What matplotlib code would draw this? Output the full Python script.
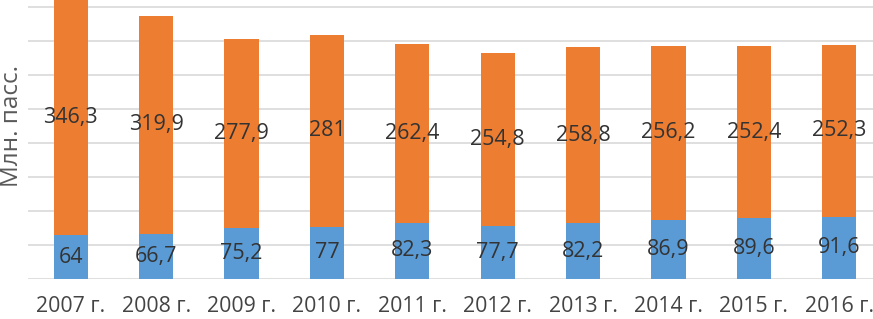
import numpy as np
import matplotlib.pyplot as plt

plt.rcParams['font.family'] = ['Open Sans', 'DejaVu Sans']

years = ['2007 г.', '2008 г.', '2009 г.', '2010 г.', '2011 г.',
         '2012 г.', '2013 г.', '2014 г.', '2015 г.', '2016 г.']
bottom_vals = [64, 66.7, 75.2, 77, 82.3, 77.7, 82.2, 86.9, 89.6, 91.6]
top_vals = [346.3, 319.9, 277.9, 281, 262.4, 254.8, 258.8, 256.2, 252.4, 252.3]

def fmt(v):
    s = ('%g' % v)
    return s.replace('.', ',')

fig = plt.figure(figsize=(8.73, 3.19), dpi=100)
ax = fig.add_axes([28/873, 40/319, 854/873, 279/319])

x = np.arange(len(years))
b1 = ax.bar(x, bottom_vals, width=0.4, color='#5B9BD5', zorder=3)
b2 = ax.bar(x, top_vals, width=0.4, bottom=bottom_vals, color='#ED7D31', zorder=3)

for i in range(len(years)):
    ax.text(x[i], bottom_vals[i]/2, fmt(bottom_vals[i]), ha='center', va='center',
            fontsize=15.5, color='#333333', zorder=4)
    ax.text(x[i], bottom_vals[i] + top_vals[i]/2, fmt(top_vals[i]), ha='center', va='center',
            fontsize=15.5, color='#333333', zorder=4)

ax.set_xlim(-0.5, 9.5)
ax.set_ylim(0, 410)
ax.set_yticks(np.arange(0, 401, 50))
ax.yaxis.grid(True, color='#D9D9D9', linewidth=1.2, zorder=0)
ax.tick_params(axis='y', left=False, labelleft=False)
ax.tick_params(axis='x', bottom=False, labelsize=15.3, colors='#444444', pad=9)
ax.set_xticks(x)
ax.set_xticklabels(years)
for s in ax.spines.values():
    s.set_visible(False)

fig.text(12/873, 1 - 126/319, 'Млн. пасс.', rotation=90, ha='center', va='center',
         fontsize=17.5, color='#595959')

fig.savefig('out.png', dpi=100)
